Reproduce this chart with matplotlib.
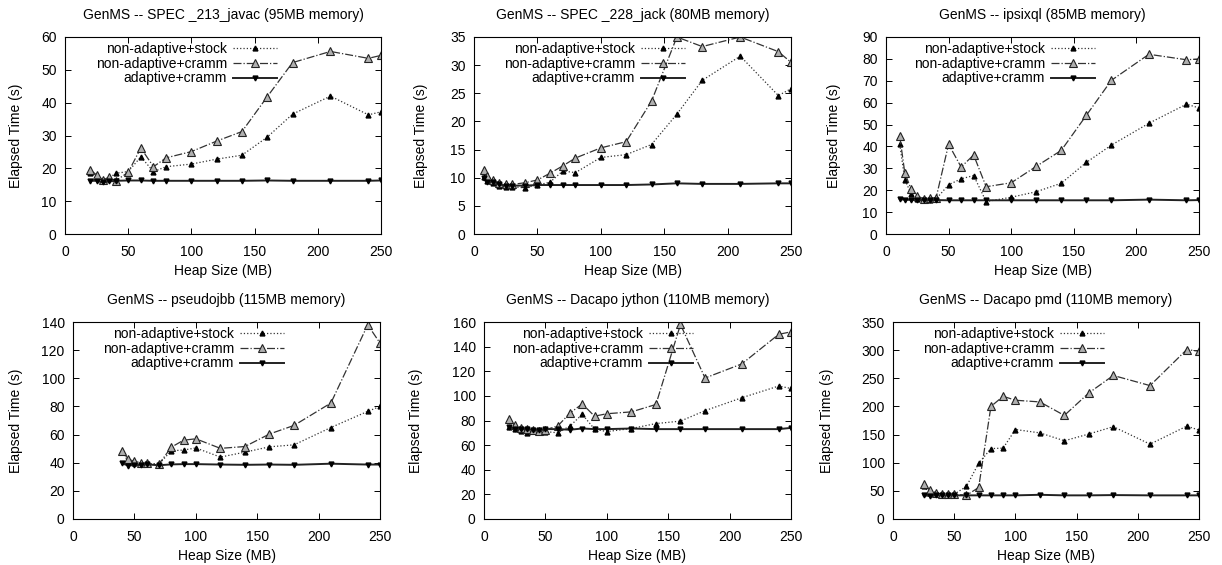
import numpy as np
import matplotlib
matplotlib.use("Agg")
import matplotlib.pyplot as plt

plt.rcParams['font.family'] = ['Liberation Sans', 'DejaVu Sans']
plt.rcParams['font.size'] = 10

# _213_javac
javac_x = [20, 25, 30, 35, 40, 50, 60, 70, 80, 100, 120, 140, 160, 180, 210, 240, 250]
javac_stock = [18.6, 17.5, 16.0, 17.0, 18.5, 19.0, 23.5, 19.0, 20.5, 21.3, 22.8, 24.0, 29.5, 36.5, 42.0, 36.3, 37.2]
javac_cramm = [19.5, 18.0, 16.5, 17.3, 16.2, 18.8, 26.2, 20.5, 23.2, 25.1, 28.3, 31.2, 41.8, 52.2, 55.6, 53.5, 54.4]
javac_adapt = [16.2, 16.2, 15.7, 16.0, 16.2, 16.3, 16.3, 16.2, 16.2, 16.2, 16.2, 16.2, 16.3, 16.2, 16.2, 16.2, 16.3]

# _228_jack
jack_x = [8, 10, 15, 20, 25, 30, 40, 50, 60, 70, 80, 100, 120, 140, 160, 180, 210, 240, 250]
jack_stock = [10.2, 9.5, 9.0, 8.6, 8.4, 8.4, 8.2, 8.7, 9.2, 11.2, 10.9, 13.6, 14.1, 15.9, 21.3, 27.3, 31.6, 24.6, 25.8]
jack_cramm = [11.4, 10.3, 9.6, 9.0, 8.8, 8.8, 9.1, 9.6, 10.8, 12.1, 13.5, 15.3, 16.4, 23.6, 35.0, 33.3, 35.0, 32.4, 30.5]
jack_adapt = [10.0, 9.3, 9.3, 8.8, 8.6, 8.6, 8.6, 8.7, 8.7, 8.7, 8.7, 8.7, 8.7, 8.8, 9.0, 8.9, 8.9, 9.0, 9.0]

# ipsixql
ipsi_x = [11, 15, 20, 25, 30, 35, 40, 50, 60, 70, 80, 100, 120, 140, 160, 180, 210, 240, 250]
ipsi_stock = [41.0, 24.8, 18.5, 16.0, 15.5, 15.5, 16.0, 22.5, 25.2, 26.7, 14.8, 16.8, 19.3, 23.2, 32.7, 40.6, 50.6, 59.3, 57.6]
ipsi_cramm = [44.6, 28.0, 20.5, 17.5, 16.0, 16.5, 16.5, 41.0, 30.6, 36.1, 21.6, 23.4, 30.9, 38.2, 54.2, 70.2, 82.1, 79.6, 80.0]
ipsi_adapt = [16.0, 15.6, 15.6, 15.4, 15.6, 15.4, 15.5, 15.4, 15.4, 15.4, 15.4, 15.4, 15.4, 15.4, 15.4, 15.4, 15.7, 15.4, 15.5]

# pseudojbb
pjbb_x = [40, 45, 50, 55, 60, 70, 80, 90, 100, 120, 140, 160, 180, 210, 240, 250]
pjbb_stock = [47.5, 41.0, 39.5, 39.0, 39.0, 39.0, 48.5, 49.0, 50.5, 44.0, 47.5, 51.3, 52.7, 65.0, 76.5, 80.0]
pjbb_cramm = [48.5, 42.5, 41.0, 40.0, 39.5, 39.0, 51.0, 56.0, 57.0, 50.2, 51.5, 60.4, 66.5, 82.4, 138.0, 125.0]
pjbb_adapt = [39.5, 38.0, 38.5, 38.5, 38.8, 38.2, 38.8, 39.0, 39.0, 38.7, 38.5, 38.7, 38.5, 39.3, 38.7, 38.7]

# Dacapo jython
jython_x = [20, 25, 30, 35, 40, 45, 50, 60, 70, 80, 90, 100, 120, 140, 160, 180, 210, 240, 250]
jython_stock = [75.0, 73.0, 71.5, 70.0, 71.5, 70.5, 71.0, 70.0, 75.5, 85.0, 73.0, 71.0, 73.5, 77.5, 79.5, 88.0, 98.5, 108.0, 106.0]
jython_cramm = [81.0, 76.0, 74.0, 73.5, 72.0, 71.5, 72.5, 75.5, 86.0, 93.5, 83.5, 85.5, 87.0, 93.0, 158.0, 114.5, 126.0, 150.0, 152.0]
jython_adapt = [74.5, 73.5, 73.0, 73.0, 72.5, 72.5, 73.0, 73.0, 72.5, 73.5, 73.0, 73.0, 73.5, 73.0, 73.0, 73.0, 73.0, 73.0, 74.0]

# Dacapo pmd
pmd_x = [25, 30, 35, 40, 45, 50, 60, 70, 80, 90, 100, 120, 140, 160, 180, 210, 240, 250]
pmd_stock = [58, 47, 45, 43, 43, 44, 58, 99, 125, 126, 159, 153, 139, 151, 164, 133, 165, 158]
pmd_cramm = [62, 51, 47, 44, 44, 44, 42, 56, 200, 218, 211, 208, 184, 224, 255, 237, 301, 298]
pmd_adapt = [42, 41, 42, 42, 42, 42, 42, 42, 42, 42, 42, 43, 42, 42, 42.5, 42, 42, 42]

panels = [
    ("GenMS -- SPEC _213_javac (95MB memory)", javac_x, javac_stock, javac_cramm, javac_adapt, 60, 10),
    ("GenMS -- SPEC _228_jack (80MB memory)", jack_x, jack_stock, jack_cramm, jack_adapt, 35, 5),
    ("GenMS -- ipsixql (85MB memory)", ipsi_x, ipsi_stock, ipsi_cramm, ipsi_adapt, 90, 10),
    ("GenMS -- pseudojbb (115MB memory)", pjbb_x, pjbb_stock, pjbb_cramm, pjbb_adapt, 140, 20),
    ("GenMS -- Dacapo jython (110MB memory)", jython_x, jython_stock, jython_cramm, jython_adapt, 160, 20),
    ("GenMS -- Dacapo pmd (110MB memory)", pmd_x, pmd_stock, pmd_cramm, pmd_adapt, 350, 50),
]

# axes boxes in pixels: left, right, top, bottom, ylabel x, legend right edge
boxes = [(65, 381, 37, 234, 16, 277), (474, 791, 37, 234, 421, 685), (886, 1199, 37, 234, 834, 1095),
         (73, 380, 322, 519, 16, 284), (484, 791, 322, 519, 416, 693), (893, 1199, 322, 519, 827, 1104)]

W, H = 1222, 565
fig = plt.figure(figsize=(W / 100, H / 100), dpi=100)

for (title, x, stock, cramm, adapt, ymax, ystep), (l, r, t, b, ylx, legr) in zip(panels, boxes):
    w, h = r - l, b - t
    ax = fig.add_axes([l / W, (H - b) / H, w / W, h / H])
    ax.plot(x, stock, linestyle=':', color='#333333', lw=0.9, marker='^', ms=3.5,
            mfc='black', mec='black', label='non-adaptive+stock')
    ax.plot(x, cramm, linestyle='-.', color='#333333', lw=0.9, marker='^', ms=5.5,
            mfc='#b0b0b0', mec='#222222', mew=0.8, label='non-adaptive+cramm')
    ax.plot(x, adapt, linestyle='-', color='#222222', lw=1.4, marker='v', ms=3.5,
            mfc='black', mec='black', label='adaptive+cramm')
    ax.set_xlim(0, 250)
    ax.set_ylim(0, ymax)
    ax.set_xticks(np.arange(0, 251, 50))
    ax.set_yticks(np.arange(0, ymax + 1, ystep))
    ax.tick_params(direction='in', top=True, right=True, length=4, width=0.7, labelsize=10)
    ax.tick_params(axis='x', pad=8)
    ax.tick_params(axis='y', pad=6)
    for s in ax.spines.values():
        s.set_linewidth(0.8)
    ax.set_title(title, fontsize=10, y=1 + 22 / h, va='center', pad=0)
    ax.set_xlabel("Heap Size (MB)", fontsize=10, va='center')
    ax.xaxis.set_label_coords(0.5, -37 / h)
    ax.set_ylabel("Elapsed Time (s)", fontsize=10, va='center')
    ax.yaxis.set_label_coords((ylx - l) / w, 0.5)
    ax.legend(loc='upper right', bbox_to_anchor=((legr - l) / w, 1 - 5 / h), frameon=False,
              markerfirst=False, fontsize=10, handlelength=3.2, handletextpad=0.4,
              labelspacing=0.05, borderpad=0, borderaxespad=0)

fig.savefig("out.png", dpi=100)
